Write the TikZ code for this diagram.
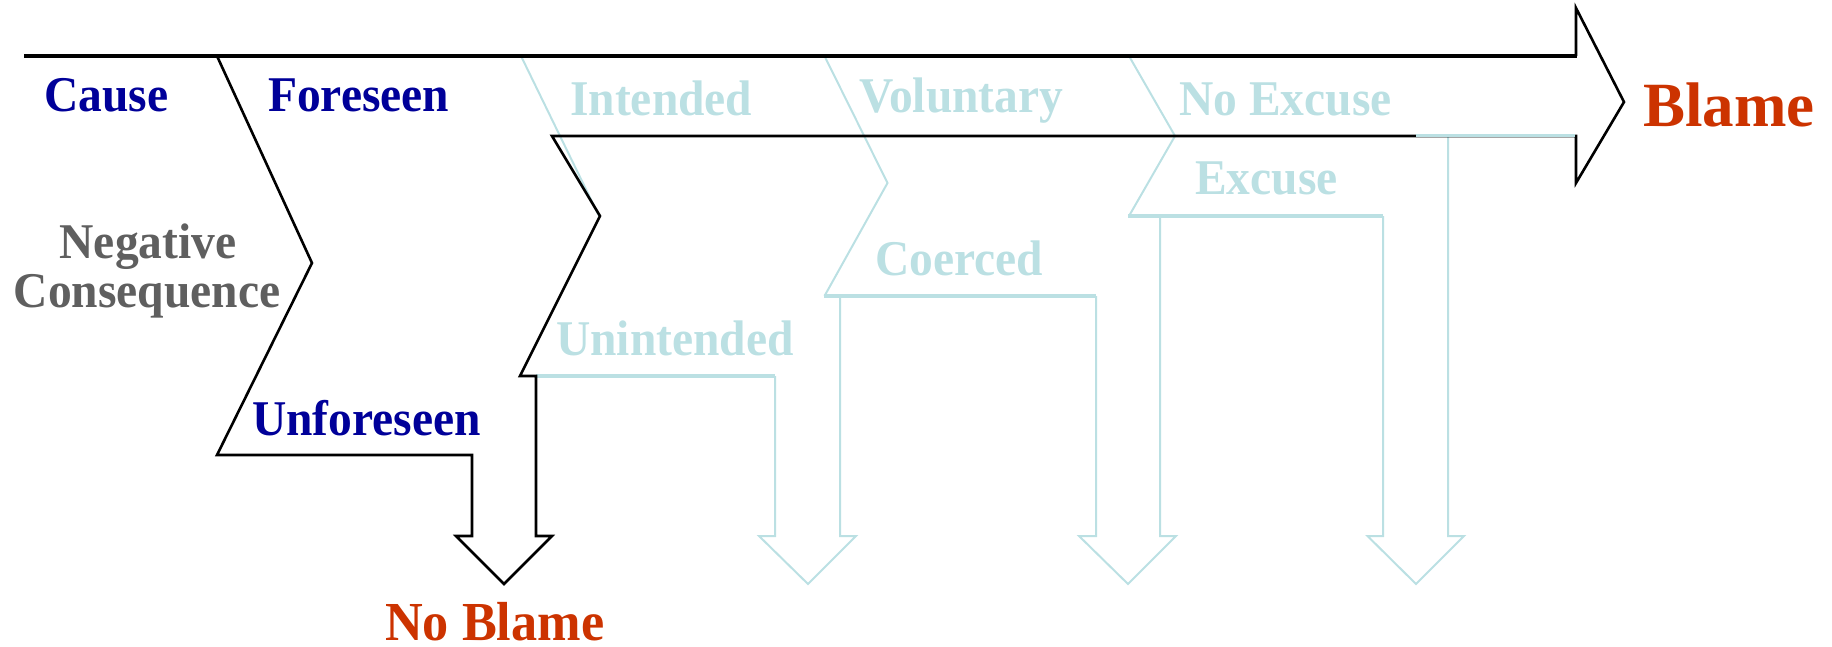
\documentclass[tikz,border=0pt]{standalone}
\usepackage{fontspec}
\setmainfont{Liberation Serif}
\newfontfamily\lblfont[FakeStretch=0.95]{Liberation Serif}
\definecolor{causeblue}{HTML}{000099}
\definecolor{stepgray}{HTML}{5F5F5F}
\definecolor{blamered}{HTML}{CC3300}
\definecolor{fadeblue}{HTML}{BBE0E3}

\begin{document}
\begin{tikzpicture}[x=1pt,y=-1pt,
  outline/.style={draw=black,line width=2.6pt,line join=miter},
  faded/.style={draw=fadeblue,line width=2pt,line join=miter},
  fadedbase/.style={draw=fadeblue,line width=3.4pt},
  lbl/.style={anchor=base west,inner sep=0pt,
    font=\lblfont\bfseries\fontsize{50}{50}\selectfont},
  cause/.style={lbl,text=causeblue},
  later/.style={lbl,text=fadeblue},
  conseq/.style={lbl,anchor=base,text=stepgray},
  verdict/.style={anchor=base west,inner sep=0pt,text=blamered}]
\useasboundingbox (0,0) rectangle (1832,646);

% later stages, drawn first so the current stage lies on top
\draw[faded] (521,56) -- (599,216);
\draw[fadedbase] (536,376) -- (775,376);
\draw[faded] (775,376) -- (775,536) -- (759,536) -- (808,584)
  -- (856,536) -- (840,536) -- (840,296);
\draw[faded] (824.5,56) -- (887.5,183) -- (824.5,296);
\draw[fadedbase] (823.5,296) -- (1096,296);
\draw[faded] (1096,296) -- (1096,536) -- (1079,536) -- (1128,584)
  -- (1176,536) -- (1160,536) -- (1160,216);
\draw[faded] (1129,56) -- (1175,136) -- (1129,216);
\draw[fadedbase] (1128,216) -- (1383,216);
\draw[faded] (1383,216) -- (1383,536) -- (1367.5,536) -- (1416,584)
  -- (1464,536) -- (1448,536) -- (1448,135);

% current stage: Cause -> Foreseen, with the Blame arrow and the No Blame exit
\draw[outline] (1576,56) -- (1576,8) -- (1624,102) -- (1576,183) -- (1576,136)
  -- (552,136) -- (600,216) -- (520,376) -- (536,376) -- (536,536)
  -- (552,536) -- (504,584) -- (456,536) -- (472,536) -- (472,455)
  -- (217,455) -- (312,263) -- (217,56);
\draw[black,line width=4pt] (24,56) -- (1577,56);

% last stage's edge running into the Blame arrow
\draw[fadeblue,line width=3.6pt] (1416,135.3) -- (1575,135.3);

% labels
\node[cause] (cause) at (44,111.7) {Cause};
\node[cause] (foreseen) at (268,111.7) {Foreseen};
\node[cause] (unforeseen) at (252,435) {Unforeseen};
\node[conseq] (neg) at (148,258) {Negative};
\node[conseq] (conseq) at (147,307) {Consequence};
\node[later] (intended) at (570,115) {Intended};
\node[later] (unintended) at (556,355) {Unintended};
\node[later] (voluntary) at (859,112) {Voluntary};
\node[later] (coerced) at (875,275) {Coerced};
\node[later] (noexcuse) at (1179,115) {No Excuse};
\node[later] (excuse) at (1195,194) {Excuse};
\node[verdict,font=\lblfont\bfseries\fontsize{55}{55}\selectfont] (noblame) at (385,640) {No Blame};
\node[verdict,font=\bfseries\fontsize{63}{63}\selectfont] (blame) at (1643,126.7) {Blame};
\end{tikzpicture}
\end{document}
